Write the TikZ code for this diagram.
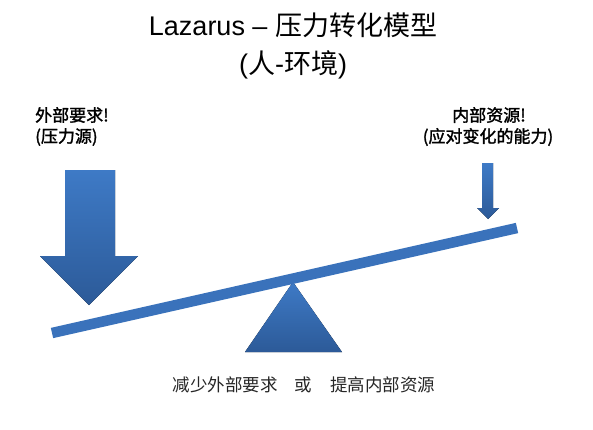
\documentclass[tikz,border=0pt]{standalone}
\usepackage{fontspec}
\setmainfont{Liberation Sans}
\newfontfamily\cjk{Noto Sans CJK SC}
\newfontfamily\cjkb[FakeBold=1.6]{Noto Sans CJK SC}
\definecolor{bluetop}{HTML}{3E7AC6}
\definecolor{bluebot}{HTML}{2C5A98}
\definecolor{beamblue}{HTML}{3A72BB}
\tikzset{
  shape fill/.style={top color=bluetop, bottom color=bluebot, draw=none},
  titletext/.style={font=\fontsize{27}{30}\selectfont, text=black, inner sep=0pt},
  labeltext/.style={font=\cjkb\fontsize{17}{21}\selectfont, text=black, inner sep=0pt, align=center},
  bottomtext/.style={font=\cjk\fontsize{17.5}{20}\selectfont, text=black!85, inner sep=0pt}
}
\begin{document}
\begin{tikzpicture}[x=1pt,y=-1pt]
\useasboundingbox[fill=white] (0,0) rectangle (593,429);
% title
\node[titletext] (title) at (293,25) {Lazarus – {\cjk 压力转化模型}};
\node[titletext] (subtitle) at (293,65) {({\cjk 人}-{\cjk 环境})};
% labels
\node[labeltext, anchor=west] (leftlbl1) at (35,115) {外部要求!};
\node[labeltext, anchor=west] (leftlbl2) at (35,137) {(压力源)};
\node[labeltext] (rightlbl1) at (489,115) {内部资源!};
\node[labeltext] (rightlbl2) at (488,137) {(应对变化的能力)};
% left arrow
\fill[shape fill] (65,170) -- (115,170) -- (115,256) -- (138,256) -- (89,305)
  -- (40,256) -- (65,256) -- cycle;
% right arrow
\fill[shape fill] (482,163) -- (493,163) -- (493,208) -- (499,208) -- (488,219)
  -- (477,208) -- (482,208) -- cycle;
% fulcrum
\fill[shape fill] (293,282) -- (342,352) -- (245,352) -- cycle;
% beam
\coordinate (beamL) at (52,333);
\coordinate (beamR) at (517,228);
\draw[beamblue, line width=10.5pt] (beamL) -- (beamR);
% bottom text
\node[bottomtext] (opt1) at (225,385) {减少外部要求};
\node[bottomtext] (or) at (303.5,385) {或};
\node[bottomtext] (opt2) at (382.5,385) {提高内部资源};
\end{tikzpicture}
\end{document}
